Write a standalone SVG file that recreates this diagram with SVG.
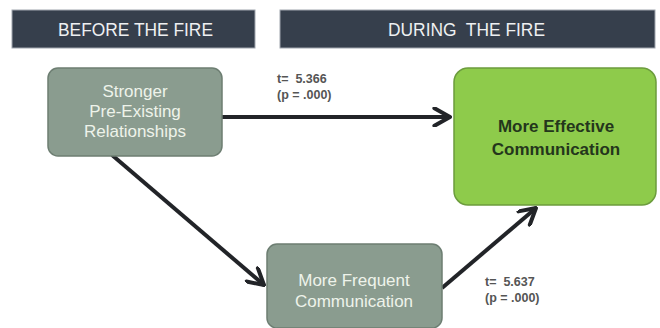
<svg xmlns="http://www.w3.org/2000/svg" width="660" height="328" viewBox="0 0 660 328">
<style>
.hdr{fill:#363f4c;stroke:#a0a6ae;stroke-width:1}
.hdrt{fill:#eef0f2;font-family:"Liberation Sans",Arial,sans-serif;font-size:17.5px;text-anchor:middle}
.gray{fill:#8a9c8f;stroke:#6d7e72;stroke-width:1.5}
.grayt{fill:#eef3ea;font-family:"Liberation Sans",Arial,sans-serif;font-size:17px;text-anchor:middle}
.green{fill:#8ecb4b;stroke:#6c9c3d;stroke-width:1.5}
.greent{fill:#24361c;font-family:"Liberation Sans",Arial,sans-serif;font-size:17px;font-weight:bold;text-anchor:middle}
.lbl{fill:#555;font-family:"Liberation Sans",Arial,sans-serif;font-size:12.5px;font-weight:bold}
.conn{stroke:#222428;stroke-width:4;fill:none;marker-end:url(#arr)}
</style>
<defs>
<marker id="arr" viewBox="0 0 10 10" refX="9" refY="5" markerWidth="5" markerHeight="5" orient="auto" markerUnits="strokeWidth">
<path d="M1.2,0.6 L9,5 L1.2,9.4" fill="none" stroke="#222428" stroke-width="2" stroke-linecap="round" stroke-linejoin="round"/>
</marker>
</defs>
<g id="header-before">
<rect class="hdr" x="12" y="10" width="243" height="38"/>
<text class="hdrt" x="135.5" y="36" textLength="155" lengthAdjust="spacingAndGlyphs">BEFORE THE FIRE</text>
</g>
<g id="header-during">
<rect class="hdr" x="280" y="10" width="375" height="38"/>
<text class="hdrt" x="466.5" y="36" textLength="157" lengthAdjust="spacingAndGlyphs" xml:space="preserve">DURING  THE FIRE</text>
</g>
<g id="connectors">
<line class="conn" x1="222" y1="117" x2="450" y2="117"/>
<line class="conn" x1="112" y1="155" x2="264" y2="285"/>
<line class="conn" x1="442" y1="288" x2="536" y2="208"/>
<text class="lbl" x="277" y="83" xml:space="preserve">t=  5.366</text>
<text class="lbl" x="277" y="99">(p = .000)</text>
<text class="lbl" x="485" y="286" xml:space="preserve">t=  5.637</text>
<text class="lbl" x="485" y="302">(p = .000)</text>
</g>
<g id="node-stronger">
<rect class="gray" x="48" y="68" width="174" height="88" rx="10"/>
<text class="grayt" x="135" y="97">Stronger</text>
<text class="grayt" x="135" y="117">Pre-Existing</text>
<text class="grayt" x="135" y="137">Relationships</text>
</g>
<g id="node-effective">
<rect class="green" x="454" y="68" width="202" height="137" rx="14"/>
<text class="greent" x="556" y="132">More Effective</text>
<text class="greent" x="556" y="155">Communication</text>
</g>
<g id="node-frequent">
<rect class="gray" x="267" y="244" width="175" height="84" rx="10"/>
<text class="grayt" x="354" y="286">More Frequent</text>
<text class="grayt" x="354" y="307">Communication</text>
</g>
</svg>
